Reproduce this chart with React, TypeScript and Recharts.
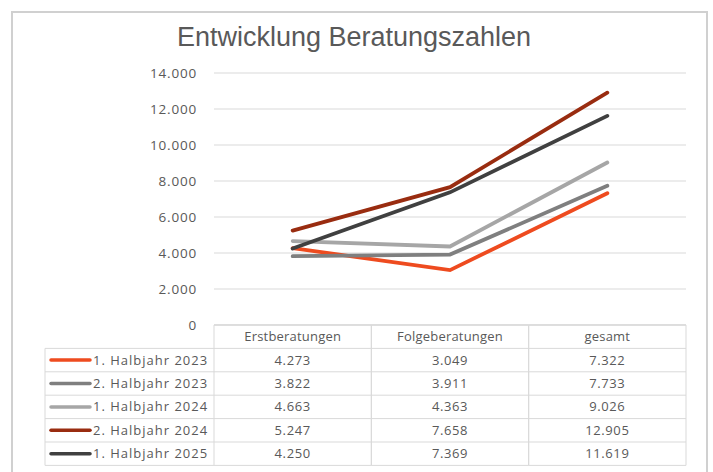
import React from 'react'
import { LineChart, Line, XAxis, YAxis, CartesianGrid } from 'recharts'

const categories = ['Erstberatungen', 'Folgeberatungen', 'gesamt']
const seriesNames = ['1. Halbjahr 2023', '2. Halbjahr 2023', '1. Halbjahr 2024', '2. Halbjahr 2024', '1. Halbjahr 2025']
const seriesColors = ['#EE4B1F', '#7F7F7F', '#A6A6A6', '#992C10', '#404040']
const h1_2023 = [4273, 3049, 7322]
const h2_2023 = [3822, 3911, 7733]
const h1_2024 = [4663, 4363, 9026]
const h2_2024 = [5247, 7658, 12905]
const h1_2025 = [4250, 7369, 11619]
const seriesValues = [h1_2023, h2_2023, h1_2024, h2_2024, h1_2025]
const yTicks = [0, 2000, 4000, 6000, 8000, 10000, 12000, 14000]

const data = categories.map((c, i) => {
  const row: Record<string, string | number> = { name: c }
  seriesNames.forEach((s, j) => { row[s] = seriesValues[j][i] })
  return row
})

const fmt = (n: number) => String(n).replace(/\B(?=(\d{3})+(?!\d))/g, '.')

const BORDER = '#D9D9D9'
const TEXT = '#595959'
const ROW_H = 23.4
const LEGEND_LEFT = 45
const tableFont = { fontFamily: '"Open Sans", sans-serif', fontSize: 13, fill: TEXT }

// each x tick draws one column of the data table; the first also draws the legend column
function TableTick(props: any) {
  const { x, y, payload, index } = props
  const half = payload?.offset || 78.7
  const left = x - half
  const right = x + half
  const rows = seriesValues.length
  const bottom = y + ROW_H * (rows + 1)
  const els: React.ReactNode[] = []
  els.push(<line key="l" x1={left} x2={left} y1={y} y2={bottom} stroke={BORDER} />)
  els.push(<line key="r" x1={right} x2={right} y1={y} y2={bottom} stroke={BORDER} />)
  for (let r = 0; r <= rows + 1; r++) {
    els.push(<line key={'h' + r} x1={left} x2={right} y1={y + r * ROW_H} y2={y + r * ROW_H} stroke={BORDER} />)
  }
  els.push(<text key="head" x={x} y={y + ROW_H / 2 + 4.5} textAnchor="middle" letterSpacing={0.2} {...tableFont}>{payload.value}</text>)
  seriesValues.forEach((vals, r) => {
    els.push(<text key={'v' + r} x={x} y={y + (r + 1.5) * ROW_H + 4.5} textAnchor="middle" letterSpacing={0.6} {...tableFont}>{fmt(vals[index])}</text>)
  })
  if (index === 0) {
    els.push(<line key="ll" x1={LEGEND_LEFT} x2={LEGEND_LEFT} y1={y + ROW_H} y2={bottom} stroke={BORDER} />)
    for (let r = 1; r <= rows + 1; r++) {
      els.push(<line key={'lh' + r} x1={LEGEND_LEFT} x2={left} y1={y + r * ROW_H} y2={y + r * ROW_H} stroke={BORDER} />)
    }
    seriesNames.forEach((s, r) => {
      const cy = y + (r + 1.5) * ROW_H
      els.push(<line key={'lm' + r} x1={LEGEND_LEFT + 6} x2={LEGEND_LEFT + 45} y1={cy} y2={cy} stroke={seriesColors[r]} strokeWidth={3.5} strokeLinecap="round" />)
      els.push(<text key={'ln' + r} x={LEGEND_LEFT + 48} y={cy + 4.5} textAnchor="start" letterSpacing={1} {...tableFont}>{s}</text>)
    })
  }
  return <g>{els}</g>
}

export default function App() {
  return (
    <div style={{ position: 'absolute', left: 0, top: 0, width: 713, height: 472, background: '#fff', overflow: 'hidden' }}>
      <div style={{ position: 'absolute', left: 11, top: 11, width: 693, height: 470, border: '2px solid #D0D0D0' }} />
      <div style={{ position: 'absolute', left: 0, top: 21, width: 708, textAlign: 'center', fontFamily: '"Liberation Sans", Arial, sans-serif', fontSize: 27, lineHeight: '32px', color: TEXT }}>
        Entwicklung Beratungszahlen
      </div>
      <div style={{ position: 'absolute', left: 0, top: 0 }}>
        <LineChart width={713} height={472} data={data} margin={{ top: 73, right: 27, bottom: 0, left: 0 }}>
          <CartesianGrid horizontal vertical={false} stroke={BORDER} />
          <XAxis dataKey="name" scale="band" height={147} tickSize={0} tickMargin={0} tickLine={false}
            axisLine={{ stroke: BORDER }} tick={<TableTick />} interval={0} />
          <YAxis width={214} domain={[0, 14000]} ticks={yTicks} tickFormatter={fmt} axisLine={false} tickLine={false}
            tickSize={0} tickMargin={17}
            tick={{ fill: TEXT, fontSize: 13.5, letterSpacing: 0.8, fontFamily: '"Open Sans", sans-serif' }} />
          {seriesNames.map((s, i) => (
            <Line key={s} dataKey={s} stroke={seriesColors[i]} strokeWidth={3.8} dot={false} strokeLinecap="round"
              isAnimationActive={false} />
          ))}
        </LineChart>
      </div>
    </div>
  )
}
